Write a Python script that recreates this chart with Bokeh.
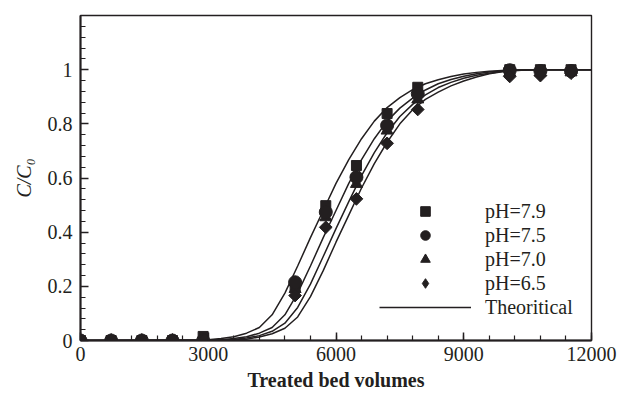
from math import pi
from bokeh.plotting import figure
from bokeh.models import (Legend, LegendItem, SingleIntervalTicker,
                          CustomJSTickFormatter, Range1d)
from bokeh.embed import file_html
from bokeh.resources import INLINE

# ---------------- data ----------------
bed_volumes = [0, 720, 1440, 2160, 2880, 5040, 5760, 6480, 7200, 7920, 10080, 10800, 11520]
ph79 = [0, 0, 0, 0, 0.015, 0.20, 0.498, 0.646, 0.838, 0.935, 1.0, 1.0, 1.0]
ph75 = [0, 0, 0, 0, 0, 0.215, 0.474, 0.603, 0.794, 0.911, 0.998, 0.995, 0.995]
ph70 = [0, 0, 0, 0, 0, 0.19, 0.455, 0.578, 0.775, 0.89, 0.99, 0.99, 0.99]
ph65 = [0, 0, 0, 0, 0, 0.166, 0.418, 0.523, 0.728, 0.853, 0.975, 0.978, 0.987]

model_x = [0, 3000, 3300, 3600, 3900, 4200, 4500, 4800, 5100, 5400, 5700, 6000,
           6300, 6600, 6900, 7200, 7500, 7800, 8100, 8400, 8700, 9000, 9300,
           9600, 9900, 10200, 10500, 10800, 11100, 11400, 11700, 12000]
model_79 = [0, 0.003, 0.007, 0.014, 0.027, 0.048, 0.095, 0.175, 0.275, 0.38, 0.48, 0.58,
            0.668, 0.745, 0.81, 0.86, 0.897, 0.926, 0.948, 0.963, 0.975, 0.984, 0.99,
            0.994, 0.997, 0.999, 1.0, 1.0, 1.0, 1.0, 1.0, 1.0]
model_75 = [0, 0.001, 0.003, 0.007, 0.014, 0.027, 0.048, 0.095, 0.175, 0.275, 0.38, 0.48,
            0.58, 0.668, 0.745, 0.81, 0.858, 0.895, 0.925, 0.948, 0.964, 0.976, 0.985,
            0.991, 0.995, 0.998, 0.999, 1.0, 1.0, 1.0, 1.0, 1.0]
model_70 = [0, 0.0, 0.002, 0.004, 0.009, 0.018, 0.034, 0.064, 0.122, 0.208, 0.31, 0.413,
            0.513, 0.609, 0.694, 0.767, 0.827, 0.872, 0.907, 0.934, 0.953, 0.968, 0.979,
            0.987, 0.993, 0.997, 0.999, 1.0, 1.0, 1.0, 1.0, 1.0]
model_65 = [0, 0.0, 0.001, 0.002, 0.005, 0.013, 0.025, 0.045, 0.087, 0.162, 0.258, 0.363,
            0.463, 0.563, 0.653, 0.732, 0.80, 0.852, 0.89, 0.917, 0.94, 0.958, 0.973,
            0.985, 0.992, 0.997, 0.999, 1.0, 1.0, 1.0, 1.0, 1.0]

series_labels = ["pH=7.9", "pH=7.5", "pH=7.0", "pH=6.5"]
model_label = "Theoritical"
x_title = "Treated bed volumes"
y_title = "C/C\u2080"

INK = "#231f20"
FONT = "Liberation Serif"

p = figure(width=627, height=394, output_backend="svg", toolbar_location=None,
           x_range=Range1d(0, 12000), y_range=Range1d(0, 1.2),
           min_border_left=80, min_border_right=36, min_border_top=15,
           min_border_bottom=54)
p.background_fill_color = "white"
p.border_fill_color = "white"
p.outline_line_color = INK
p.outline_line_width = 1.4
p.xgrid.visible = False
p.ygrid.visible = False

# theoretical curves
lines = []
for ys in (model_79, model_75, model_70, model_65):
    lines.append(p.line(model_x, ys, line_color=INK, line_width=1.5))

# observed points
r_sq = p.scatter(bed_volumes, ph79, marker="square", size=10, color=INK)
r_tr = p.scatter(bed_volumes, ph70, marker="triangle", size=12, color=INK)
r_ci = p.scatter(bed_volumes, ph75, marker="circle", size=13, color=INK)
# small diamond drawn under the rotated squares; it provides the legend key shape
r_di_key = p.scatter(bed_volumes, ph65, marker="diamond", size=9, color=INK)
r_di = p.scatter(bed_volumes, ph65, marker="square", angle=pi / 4, size=9, color=INK)

# axes
p.xaxis.ticker = SingleIntervalTicker(interval=3000, num_minor_ticks=5)
p.yaxis.ticker = SingleIntervalTicker(interval=0.2, num_minor_ticks=5)
p.yaxis.formatter = CustomJSTickFormatter(code="return String(Math.round(tick*10)/10)")
for ax in (p.xaxis[0], p.yaxis[0]):
    ax.axis_line_color = INK
    ax.axis_line_width = 2
    ax.major_tick_line_color = INK
    ax.minor_tick_line_color = INK
    ax.major_tick_line_width = 1.5
    ax.minor_tick_line_width = 1.2
    ax.major_tick_in = 8
    ax.major_tick_out = 0
    ax.minor_tick_in = 5
    ax.minor_tick_out = 0
    ax.major_label_text_font = FONT
    ax.major_label_text_font_size = "20px"
    ax.major_label_text_color = INK
    ax.axis_label_text_font = FONT
    ax.axis_label_text_font_size = "20px"
    ax.axis_label_text_color = INK
p.xaxis.major_label_standoff = 6
p.yaxis.major_label_standoff = 8
p.xaxis.axis_label = x_title
p.xaxis.axis_label_text_font_style = "bold"
p.xaxis.axis_label_standoff = 5
p.yaxis.axis_label = y_title
p.yaxis.axis_label_text_font_style = "italic"
p.yaxis.axis_label_standoff = 10

legend = Legend(items=[
    LegendItem(label=series_labels[0], renderers=[r_sq]),
    LegendItem(label=series_labels[1], renderers=[r_ci]),
    LegendItem(label=series_labels[2], renderers=[r_tr]),
    LegendItem(label=series_labels[3], renderers=[r_di_key]),
    LegendItem(label=model_label, renderers=[lines[0]]),
], location=(299, 21), glyph_width=92, glyph_height=24, label_height=20, spacing=0,
   padding=0, margin=0, label_standoff=14, label_text_font=FONT,
   label_text_font_size="20px", label_text_color=INK,
   background_fill_alpha=0, border_line_alpha=0)
p.add_layout(legend)

open("out.html", "w").write(file_html(p, INLINE))
